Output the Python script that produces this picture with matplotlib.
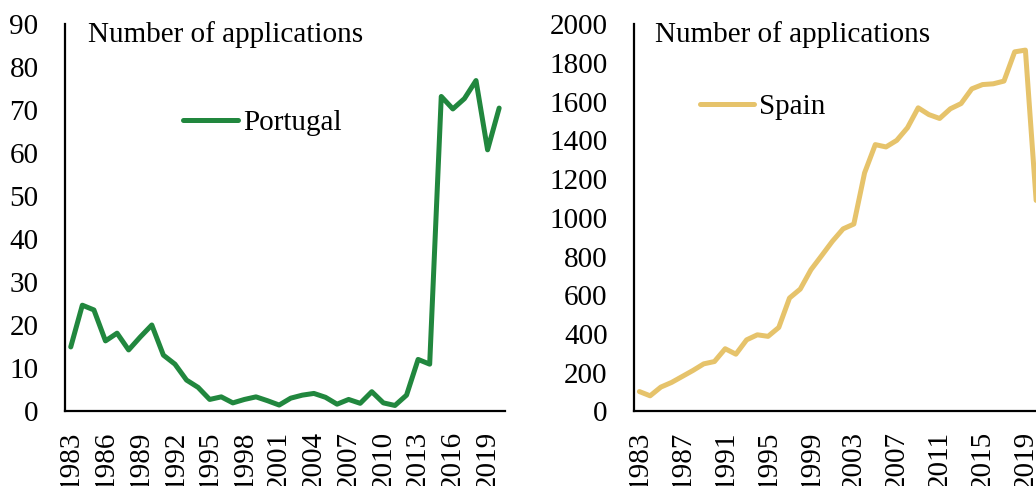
import numpy as np
import matplotlib.pyplot as plt

plt.rcParams['font.family'] = ['Liberation Serif', 'DejaVu Serif']

# Years 1983-2020
years = list(range(1983, 2021))

portugal = [15, 24.7, 23.6, 16.4, 18.2, 14.3, 17.3, 20.1, 13.1, 11.0,
            7.3, 5.6, 2.8, 3.4, 2.0, 2.8, 3.4, 2.5, 1.5, 3.1,
            3.8, 4.2, 3.3, 1.7, 2.8, 1.9, 4.6, 2.0, 1.4, 3.8,
            12.1, 11.0, 73.2, 70.3, 72.7, 76.9, 60.8, 70.5]

spain = [103, 81, 126, 150, 181, 212, 246, 258, 324, 296,
         370, 396, 388, 434, 586, 632, 732, 805, 879, 943,
         968, 1232, 1378, 1366, 1400, 1465, 1568, 1533, 1513, 1563,
         1590, 1666, 1688, 1692, 1706, 1857, 1866, 1090]

green = '#21873E'
gold = '#E6C36B'
fs = 21

fig = plt.figure(figsize=(10.36, 4.86), dpi=100)
ax1 = fig.add_axes([0.0627, 0.1533, 0.4247, 0.797])
ax2 = fig.add_axes([0.612, 0.1533, 0.3933, 0.797])

x = np.arange(len(years))

def style(ax, step, ymax, ystep):
    ax.set_xlim(-0.5, len(years) - 0.5)
    ax.set_ylim(0, ymax)
    ax.set_yticks(np.arange(0, ymax + 1, ystep))
    ax.set_xticks(x[::step])
    ax.set_xticklabels([str(y) for y in years[::step]], rotation=90)
    ax.tick_params(axis='x', length=0, pad=14, labelsize=fs)
    ax.tick_params(axis='y', length=0, pad=19, labelsize=fs)
    for s in ['top', 'right']:
        ax.spines[s].set_visible(False)
    for s in ['left', 'bottom']:
        ax.spines[s].set_linewidth(1.6)
    ax.text(0.052, 0.954, 'Number of applications', transform=ax.transAxes,
            fontsize=fs, va='baseline', ha='left')

ax1.plot(x, portugal, color=green, lw=3.6, solid_joinstyle='round',
         solid_capstyle='round', label='Portugal')
style(ax1, 3, 90, 10)
ax1.legend(loc='center left', bbox_to_anchor=(0.268, 0.745), frameon=False,
           fontsize=fs, handlelength=1.9, handletextpad=0.17,
           borderpad=0, borderaxespad=0)

ax2.plot(x, spain, color=gold, lw=3.6, solid_joinstyle='round',
         solid_capstyle='round', label='Spain')
style(ax2, 4, 2000, 200)
ax2.legend(loc='center left', bbox_to_anchor=(0.162, 0.786), frameon=False,
           fontsize=fs, handlelength=1.85, handletextpad=0.17,
           borderpad=0, borderaxespad=0)

fig.savefig('out.png', dpi=100)
